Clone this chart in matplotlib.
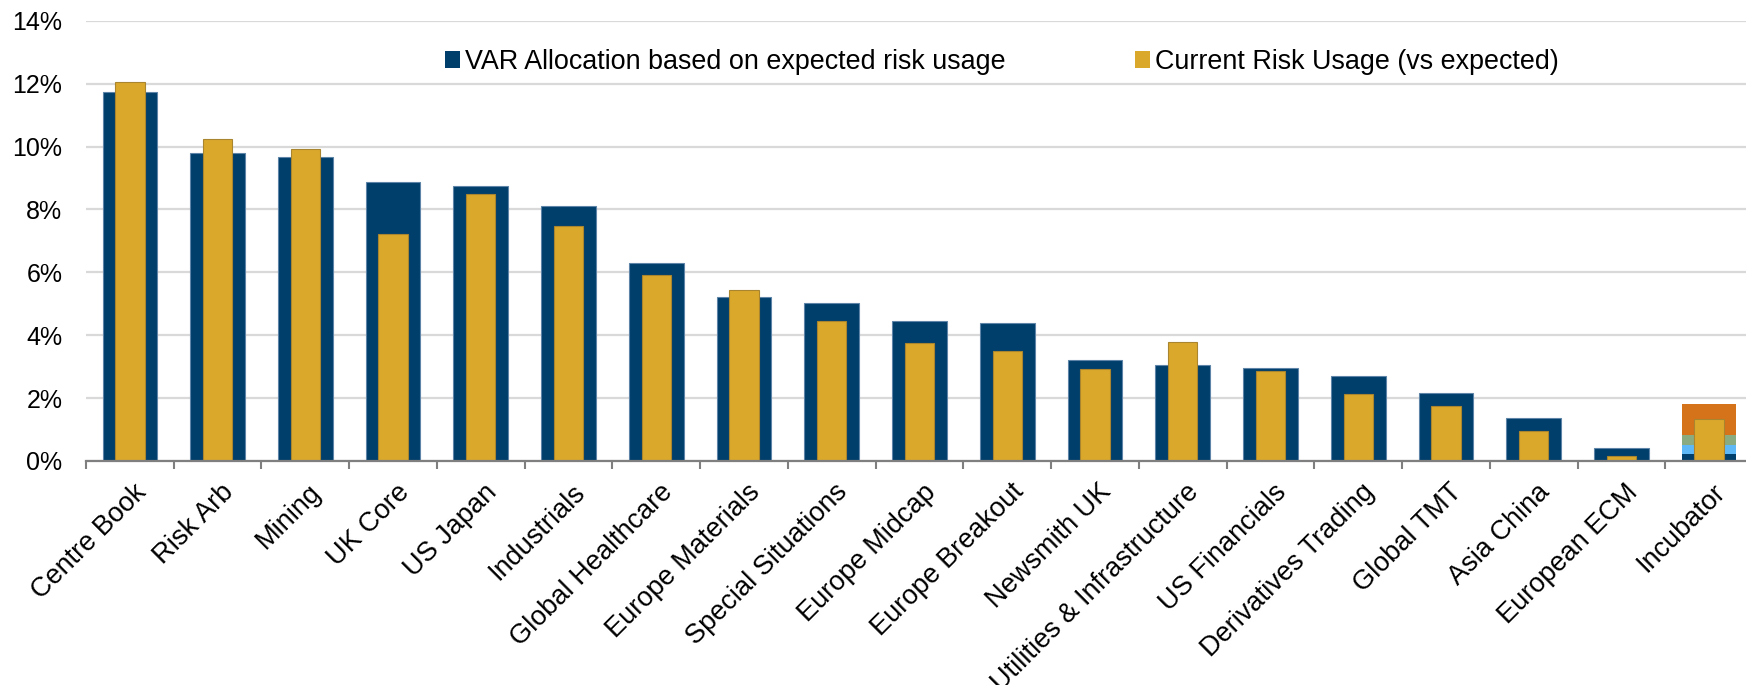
import matplotlib
matplotlib.use("Agg")
import matplotlib.pyplot as plt
import matplotlib.transforms as mtransforms
from matplotlib.patches import Patch
from matplotlib.ticker import FuncFormatter, FixedLocator, NullFormatter
import numpy as np

plt.rcParams['font.family'] = ['Liberation Sans', 'DejaVu Sans']

categories = ["Centre Book", "Risk Arb", "Mining", "UK Core", "US Japan", "Industrials",
              "Global Healthcare", "Europe Materials", "Special Situations", "Europe Midcap",
              "Europe Breakout", "Newsmith UK", "Utilities & Infrastructure", "US Financials",
              "Derivatives Trading", "Global TMT", "Asia China", "European ECM", "Incubator"]

var_allocation = [11.72, 9.79, 9.67, 8.88, 8.74, 8.11, 6.31, 5.21, 5.03, 4.44,
                  4.40, 3.20, 3.04, 2.97, 2.71, 2.15, 1.36, 0.41, None]
current_usage = [12.06, 10.24, 9.92, 7.23, 8.48, 7.46, 5.91, 5.45, 4.45, 3.74,
                 3.50, 2.92, 3.78, 2.85, 2.12, 1.76, 0.94, 0.15, 1.33]
# Incubator VAR allocation made of stacked sub-books
incubator_parts = [0.21, 0.29, 0.32, 0.98]
incubator_colors = ["#003E6B", "#5EB8F5", "#8AAB80", "#D5731A"]

y_ticks = [0, 2, 4, 6, 8, 10, 12, 14]
legend_labels = ["VAR Allocation based on expected risk usage", "Current Risk Usage (vs expected)"]

NAVY = "#003E6B"
GOLD = "#DAA82B"

W, H = 1746, 685
DPI = 100
fig = plt.figure(figsize=(W / DPI, H / DPI), dpi=DPI)
left, right, top, bottom = 86, 1753, 20.7, 461
ax = fig.add_axes([left / W, 1 - bottom / H, (right - left) / W, (bottom - top) / H])

x = np.arange(len(categories))
wide, narrow = 0.623, 0.334

for i, v in enumerate(var_allocation):
    if v is None:
        base = 0
        for part, col in zip(incubator_parts, incubator_colors):
            ax.bar(i, part, width=wide, bottom=base, color=col, linewidth=0, zorder=2)
            base += part
    else:
        ax.bar(i, v, width=wide, color=NAVY, edgecolor="#5E84A8", linewidth=0.8, zorder=2)
ax.bar(x, current_usage, width=narrow, color=GOLD, edgecolor="#A8852E", linewidth=0.8, zorder=3)

ax.set_xlim(-0.5, len(categories) - 0.5)
ax.set_ylim(0, 14)
ax.set_yticks(y_ticks)
ax.yaxis.set_major_formatter(FuncFormatter(lambda v, p: f"{v:.0f}%"))
ax.grid(axis="y", color="#D9D9D9", linewidth=1.6, zorder=0)
ax.set_axisbelow(True)
for s in ["left", "right", "top"]:
    ax.spines[s].set_visible(False)
ax.spines["bottom"].set_color("#7F7F7F")
ax.spines["bottom"].set_linewidth(1.6)
ax.spines["bottom"].set_zorder(4)

ax.tick_params(axis="y", length=0, pad=17, labelsize=18, labelcolor="#000000")
ax.xaxis.set_major_locator(FixedLocator(np.arange(-0.5, len(categories), 1.0)))
ax.xaxis.set_major_formatter(NullFormatter())
ax.tick_params(axis="x", which="major", length=5.5, width=1.5, color="#7F7F7F", direction="out")

# category labels, rotated 45 degrees, top-right corner anchored below each category
offset = mtransforms.ScaledTranslation(3 / DPI, -18 / DPI, fig.dpi_scale_trans)
label_trans = ax.get_xaxis_transform() + offset
for i, name in enumerate(categories):
    ax.text(x[i], 0, name, transform=label_trans, rotation=45, rotation_mode="anchor",
            ha="right", va="top", fontsize=19.5, color="#000000")

handles = [Patch(facecolor=NAVY, edgecolor="none"), Patch(facecolor=GOLD, edgecolor="none")]
fig.legend(handles, legend_labels, loc="center left", bbox_to_anchor=(445 / W, 1 - 62 / H),
           ncol=2, frameon=False, fontsize=19.4, handlelength=0.55, handleheight=0.55,
           handletextpad=0.2, columnspacing=4.8, borderpad=0, borderaxespad=0)

fig.savefig("out.png", dpi=DPI)
